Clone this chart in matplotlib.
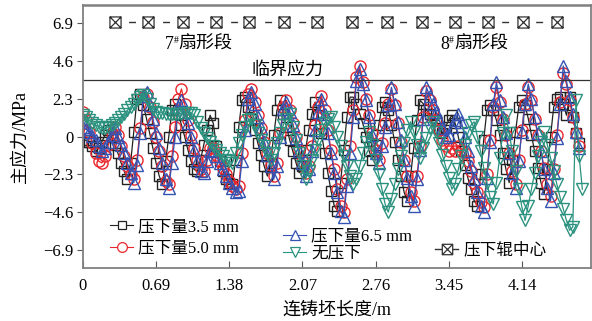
import numpy as np
import matplotlib.pyplot as plt
from matplotlib.path import Path
from matplotlib.lines import Line2D
from matplotlib.offsetbox import TextArea, HPacker, AnnotationBbox

plt.rcParams['font.family'] = ['Liberation Serif', 'Noto Sans CJK SC']

# sampled every 0.03 m along the strand
step = 0.03

stress_35 = [
    -0.3, -0.2, -0.3, -0.6, -0.9, -0.7, -0.3, 0.1, 0.4, 0.0,
    -0.5, -1.0, -1.6, -2.1, -2.6, -1.6, 0.3, 2.3, 2.6, 1.9,
    1.1, 0.2, -0.7, -1.6, -2.4, -2.9, -1.5, 0.0, 1.6, 2.0,
    1.4, 0.7, 0.0, -0.8, -1.5, -2.0, -2.1, -1.4, -0.5, 0.4,
    1.3, 0.8, -0.6, -1.5, -2.1, -2.6, -2.8, -2.9, -1.4, 0.6,
    2.2, 2.4, 1.8, 1.1, 0.4, -0.4, -1.1, -1.8, -2.4, -1.6,
    0.1, 1.6, 2.2, 1.4, 0.6, -0.2, -0.9, -1.6, -2.2, -1.8,
    -0.8, 0.4, 1.4, 2.1, 1.3, 0.2, -1.0, -2.2, -3.3, -4.2,
    -4.5, -2.8, -0.8, 1.2, 2.4, 2.4, 2.0, 1.4, 0.8, 0.0,
    -0.9, -1.4, -0.5, 0.7, 1.8, 2.1, 1.6, 0.7, -0.3, -1.4,
    -2.4, -3.4, -3.9, -2.4, -0.7, 1.0, 2.2, 2.0, 1.6, 1.4,
    1.3, 1.0, 0.5, 0.2, 0.6, 1.0, 1.3, 0.8, 0.0, -0.9,
    -1.7, -2.5, -3.2, -3.9, -4.2, -2.3, -0.2, 1.6, 1.9, 1.6,
    1.0, 0.1, -1.0, -2.0, -2.8, -1.4, 0.3, 1.8, 2.2, 1.9,
    1.1, 0.1, -0.9, -1.9, -2.8, -3.5, -2.0, 0.0, 1.8, 2.3,
    2.4, 2.0, 1.3, 2.4, 1.2, 0.2, -0.4,
]

stress_50 = [
    1.5, 1.0, 0.3, -0.4, -1.0, -1.5, -1.6, -1.2, -0.5, 0.2,
    0.6, 0.1, -0.6, -1.2, -1.8, -2.3, -2.6, -1.4, 0.5, 2.4,
    2.6, 1.8, 0.9, 0.0, -0.9, -1.8, -2.7, -2.9, -1.2, 0.6,
    2.3, 2.9, 2.0, 1.0, 0.1, -0.7, -1.4, -2.0, -2.1, -1.4,
    -0.7, -0.7, -1.1, -1.5, -1.9, -2.3, -2.7, -3.0, -3.2, -3.0,
    -1.0, 1.0, 2.6, 2.9, 2.1, 1.3, 0.5, -0.3, -1.0, -1.7,
    -2.4, -1.6, 0.2, 1.8, 2.2, 1.6, 0.8, 0.0, -0.8, -1.5,
    -2.2, -1.8, -0.6, 0.7, 1.8, 2.5, 1.6, 0.4, -0.8, -2.0,
    -3.2, -4.2, -4.6, -2.6, -0.6, 1.6, 3.6, 4.3, 3.3, 2.3,
    1.3, 0.2, -0.8, -1.4, -0.4, 0.8, 2.0, 2.9, 1.9, 0.8,
    -0.3, -1.4, -2.4, -3.4, -3.9, -2.4, -0.6, 1.2, 2.8, 2.2,
    1.6, 1.0, 0.4, -0.2, -0.6, -0.9, -0.7, -0.9, -0.6, -0.8,
    -1.0, -1.5, -2.1, -2.8, -3.4, -4.0, -4.3, -2.3, -0.2, 1.8,
    3.0, 2.1, 1.1, 0.1, -1.0, -2.1, -2.9, -1.4, 0.4, 2.0,
    3.0, 2.2, 1.1, 0.1, -0.9, -1.9, -2.9, -3.6, -2.0, 0.1,
    2.1, 3.9, 3.2, 2.2, 1.2, 0.2, -0.6,
]

stress_65 = [
    0.6, 0.45, 0.3, 0.05, -0.2, -0.55, -0.9, -0.7, -0.3, 0.1,
    0.5, 0.0, -0.5, -1.0, -1.6, -2.2, -2.8, -1.7, 0.2, 2.5,
    2.7, 1.9, 1.1, 0.2, -0.7, -1.6, -2.6, -3.1, -1.6, 0.0,
    1.8, 2.2, 1.5, 0.8, 0.0, -0.8, -1.5, -2.1, -2.2, -1.5,
    -0.9, -0.8, -1.2, -1.6, -2.0, -2.4, -2.8, -3.1, -3.4, -3.3,
    -1.5, 0.4, 2.3, 2.7, 2.0, 1.2, 0.5, -0.3, -1.1, -1.8,
    -2.6, -1.8, 0.0, 1.7, 2.1, 1.5, 0.7, -0.1, -0.9, -1.6,
    -2.4, -2.0, -0.9, 0.4, 1.5, 2.3, 1.4, 0.2, -1.0, -2.2,
    -3.4, -4.5, -4.9, -3.0, -1.0, 1.2, 3.4, 4.1, 3.2, 2.2,
    1.2, 0.1, -1.0, -1.6, -0.6, 0.6, 1.9, 3.0, 2.0, 0.9,
    -0.2, -1.4, -2.5, -3.6, -4.2, -2.6, -0.8, 1.1, 3.0, 2.5,
    2.0, 1.5, 1.0, 0.5, 0.0, 0.1, 0.6, 1.0, 1.4, 0.9,
    0.0, -0.9, -1.8, -2.6, -3.4, -4.2, -4.6, -2.5, -0.3, 2.0,
    3.3, 2.2, 1.2, 0.2, -1.0, -2.2, -3.1, -1.5, 0.3, 2.0,
    3.2, 2.3, 1.2, 0.2, -0.9, -2.0, -3.1, -3.9, -2.2, -0.1,
    2.0, 4.3, 3.4, 2.4, 1.4, 0.3, -0.7,
]

stress_none = [
    1.3, 1.2, 1.0, 0.8, 0.7, 0.6, 0.5, 0.5, 0.6, 0.7,
    0.8, 1.0, 1.2, 1.4, 1.6, 1.8, 2.0, 2.2, 2.4, 2.55,
    2.3, 2.0, 1.7, 1.5, 1.45, 1.45, 1.4, 1.4, 1.4, 1.4,
    1.4, 1.4, 1.45, 1.45, 1.45, 1.3, 0.9, 0.5, 0.2, -0.1,
    -0.3, -0.6, -0.8, -1.0, -1.2, -1.4, -1.5, -1.6, -1.0, -0.4,
    0.1, 0.6, 1.0, 1.1, 0.7, 0.2, -0.2, -0.6, -1.0, -1.4,
    -1.0, -0.4, 0.2, 0.7, 1.1, 1.35, 0.6, -0.2, -1.0, -1.8,
    -2.6, -2.1, -1.4, -0.8, -0.2, 0.4, 0.8, 1.1, 1.2, 0.6,
    0.0, -0.6, -1.2, -1.8, -2.4, -2.9, -2.6, -1.8, -1.0, -0.3,
    0.3, -0.5, -1.4, -2.3, -3.2, -4.1, -4.6, -3.8, -2.9, -2.0,
    -1.2, -0.4, 0.4, 0.9, 0.3, -0.5, -1.3, -0.7, -0.1, 0.5,
    0.9, 0.3, -0.4, -1.1, -1.8, -2.5, -3.2, -2.9, -2.0, -1.2,
    -0.5, 0.2, 0.7, 0.9, 0.0, -0.9, -1.9, -2.8, -3.7, -4.1,
    -2.8, -1.3, 0.2, 1.3, 0.2, -0.9, -2.1, -3.2, -4.3, -5.1,
    -4.2, -3.2, -2.2, -1.2, -0.3, 0.25, -0.5, -1.3, -2.1, -2.9,
    -3.7, -4.4, -5.1, -5.7, -5.5, 2.2, -1.2, -3.2,
]

# roller centres of the two sector segments
rollers_7 = [0.30, 0.61, 0.94, 1.26, 1.57, 1.90, 2.21]
rollers_8 = [2.54, 2.87, 3.20, 3.51, 3.82, 4.15, 4.47]
roller_level = 7.0
critical_stress = 3.46

xticks = [0, 0.69, 1.38, 2.07, 2.76, 3.45, 4.14]
xticklabels = ['0', '0.69', '1.38', '2.07', '2.76', '3.45', '4.14']
yticks = [-6.9, -4.6, -2.3, 0, 2.3, 4.6, 6.9]
yticklabels = ['\u22126.9', '\u22124.6', '\u22122.3', '0', '2.3', '4.6', '6.9']

c_black = '#222222'
c_red = '#e8262b'
c_blue = '#3553b3'
c_green = '#2a927f'

# square with a cross inside
box_x = Path(
    [(-1, -1), (1, -1), (1, 1), (-1, 1), (-1, -1), (-1, -1), (1, 1), (-1, 1), (1, -1)],
    [Path.MOVETO, Path.LINETO, Path.LINETO, Path.LINETO, Path.CLOSEPOLY,
     Path.MOVETO, Path.LINETO, Path.MOVETO, Path.LINETO],
)

fig = plt.figure(figsize=(5.92, 3.21), dpi=100)
ax = fig.add_axes([0.140, 0.165, 0.858, 0.819])

series = [
    (stress_35, c_black, 's', 7.0),
    (stress_50, c_red, 'o', 8.0),
    (stress_65, c_blue, '^', 8.5),
    (stress_none, c_green, 'v', 8.5),
]
for vals, col, mk, ms in series:
    xs = np.arange(len(vals)) * step
    ax.plot(xs, vals, color=col, lw=0.9, marker=mk, ms=ms, mfc='none',
            mec=col, mew=1.0)

ax.axhline(critical_stress, color='#333333', lw=0.9)

for grp in (rollers_7, rollers_8):
    ax.plot(grp, [roller_level] * len(grp), color='#333333', lw=1.0,
            linestyle=(14.75, (5.0, 19.5)), marker=box_x, ms=8,
            mfc='white', mec='#333333', mew=0.9)

ax.set_xlim(0, 4.79)
ax.set_ylim(-8.0, 8.0)
ax.set_xticks(xticks)
ax.set_xticklabels(xticklabels)
ax.set_yticks(yticks)
ax.set_yticklabels(yticklabels)
ax.tick_params(axis='x', direction='in', length=5, labelsize=12, pad=7,
               color='#555555')
ax.tick_params(axis='y', direction='out', length=4, labelsize=12, pad=3,
               color='#555555')
for s in ax.spines.values():
    s.set_color('#808080')
    s.set_linewidth(1.3)
ax.spines['top'].set_linewidth(1.8)

ax.set_xlabel('连铸坯长度/m', fontsize=13, labelpad=6)
ax.set_ylabel('主应力/MPa', fontsize=13, labelpad=10)

ax.text(1.93, 4.05, '临界应力', fontsize=13, ha='center', va='center')


def sector_label(num, xc, yc):
    parts = [TextArea(num, textprops=dict(fontsize=13)),
             TextArea('#', textprops=dict(fontsize=7)),
             TextArea('扇形段', textprops=dict(fontsize=13))]
    box = HPacker(children=parts, align='top', pad=0, sep=0)
    ab = AnnotationBbox(box, (xc, yc), xycoords='data', frameon=False,
                        box_alignment=(0.5, 0.5))
    ax.add_artist(ab)


sector_label('7', 1.09, 5.6)
sector_label('8', 3.69, 5.6)


def proxy(col, mk, ms):
    return Line2D([], [], color=col, lw=0.8, marker=mk, ms=ms, mfc='white',
                  mec=col, mew=0.9)


leg_kw = dict(frameon=False, fontsize=12, handlelength=1.4, handletextpad=0.3,
              borderpad=0, borderaxespad=0, loc='upper left',
              bbox_transform=fig.transFigure)
leg1 = ax.legend([proxy(c_black, 's', 6.0), proxy(c_red, 'o', 7.0)],
                 ['压下量3.5 mm', '压下量5.0 mm'], labelspacing=0.35,
                 bbox_to_anchor=(0.186, 0.318), **leg_kw)
ax.add_artist(leg1)
leg2 = ax.legend([proxy(c_blue, '^', 7.5), proxy(c_green, 'v', 7.5)],
                 ['压下量6.5 mm', '无压下'], labelspacing=0.05,
                 bbox_to_anchor=(0.478, 0.288), **leg_kw)
ax.add_artist(leg2)
ax.legend([Line2D([], [], color='#333333', lw=1.0, marker=box_x, ms=7.5,
                  mfc='white', mec='#333333', mew=0.9)],
          ['压下辊中心'], bbox_to_anchor=(0.735, 0.245), **leg_kw)

fig.savefig('out.png', dpi=100)
